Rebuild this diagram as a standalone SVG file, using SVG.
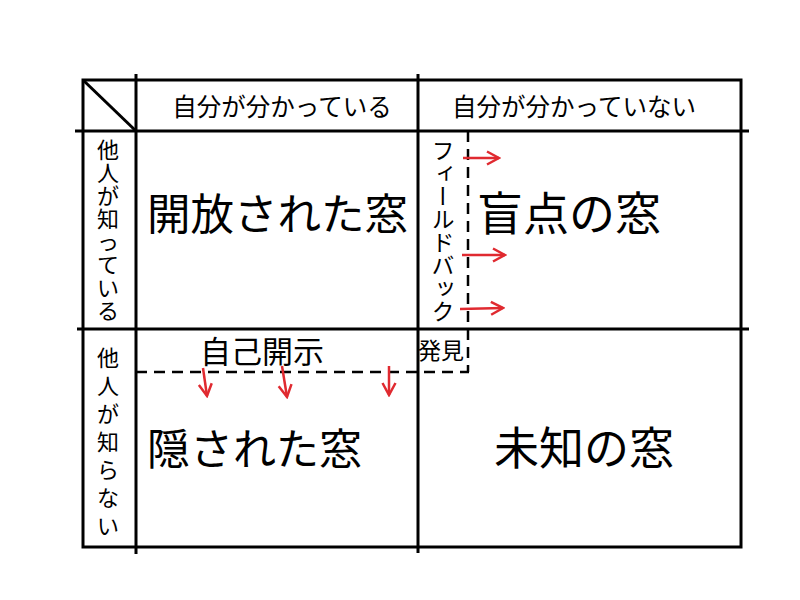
<svg xmlns="http://www.w3.org/2000/svg" width="800" height="600" viewBox="0 0 800 600">
<defs>
<style>
.ln{stroke:#000;stroke-width:3;fill:none}
.dash{stroke:#000;stroke-width:2.5;fill:none;stroke-dasharray:11 7}
.ar{stroke:#e02a30;stroke-width:2.5;fill:none}
text{font-family:"Noto Sans CJK JP","Noto Sans",sans-serif;fill:#000}
.hd{font-size:24.5px;text-anchor:middle}
.big{font-size:44px}
.side{font-size:22px;text-anchor:middle}
</style>
<marker id="ah" viewBox="0 0 16 16" refX="14" refY="8" markerWidth="16" markerHeight="16" markerUnits="userSpaceOnUse" orient="auto">
<path d="M2,1.5 L14,8 L2,14.5" fill="none" stroke="#e02a30" stroke-width="2.5"/>
</marker>
</defs>
<rect width="800" height="600" fill="#fff"/>
<g id="grid">
<rect class="ln" x="83" y="80" width="658" height="467"/>
<line class="ln" x1="136" y1="74" x2="136" y2="554"/>
<line class="ln" x1="418" y1="74" x2="418" y2="553"/>
<line class="ln" x1="75" y1="131" x2="749" y2="131"/>
<line class="ln" x1="77" y1="329" x2="749" y2="329"/>
<line class="ln" x1="83" y1="80" x2="136" y2="131"/>
</g>
<g id="header-known">
<text class="hd" x="282" y="116">自分が分かっている</text>
</g>
<g id="header-unknown">
<text class="hd" x="574" y="116">自分が分かっていない</text>
</g>
<g id="side-known">
<text class="side"><tspan x="108" y="158">他</tspan><tspan x="108" dy="23">人</tspan><tspan x="108" dy="23">が</tspan><tspan x="108" dy="23">知</tspan><tspan x="108" dy="23">っ</tspan><tspan x="108" dy="23">て</tspan><tspan x="108" dy="23">い</tspan><tspan x="108" dy="23">る</tspan></text>
</g>
<g id="side-unknown">
<text class="side"><tspan x="108" y="366">他</tspan><tspan x="108" dy="28">人</tspan><tspan x="108" dy="28">が</tspan><tspan x="108" dy="28">知</tspan><tspan x="108" dy="28">ら</tspan><tspan x="108" dy="28">な</tspan><tspan x="108" dy="28">い</tspan></text>
</g>
<g id="open-window">
<text class="big" x="147" y="230" style="font-size:43.5px">開放された窓</text>
</g>
<g id="blind-window">
<text class="big" x="477" y="230" style="font-size:46px">盲点の窓</text>
</g>
<g id="hidden-window">
<text class="big" x="147" y="465" style="font-size:43px">隠された窓</text>
</g>
<g id="unknown-window">
<text class="big" x="494" y="465" style="font-size:45px">未知の窓</text>
</g>
<g id="feedback">
<text x="443" y="139" style="font-size:23px;writing-mode:vertical-rl">フィールドバック</text>
</g>
<g id="self-disclosure">
<text x="200" y="363" style="font-size:31px">自己開示</text>
</g>
<g id="discovery">
<text x="418" y="359" style="font-size:23px">発見</text>
</g>
<g id="connectors">
<line class="dash" x1="468" y1="131" x2="468" y2="372"/>
<line class="dash" x1="136" y1="372" x2="469" y2="372"/>
<line class="ar" x1="463" y1="158" x2="499" y2="158" marker-end="url(#ah)"/>
<line class="ar" x1="462" y1="255" x2="505" y2="255" marker-end="url(#ah)"/>
<line class="ar" x1="460" y1="309" x2="503" y2="308" marker-end="url(#ah)"/>
<line class="ar" x1="203" y1="368" x2="207" y2="396" marker-end="url(#ah)"/>
<line class="ar" x1="282" y1="366" x2="287" y2="397" marker-end="url(#ah)"/>
<line class="ar" x1="389" y1="366" x2="389" y2="395" marker-end="url(#ah)"/>
</g>
</svg>
